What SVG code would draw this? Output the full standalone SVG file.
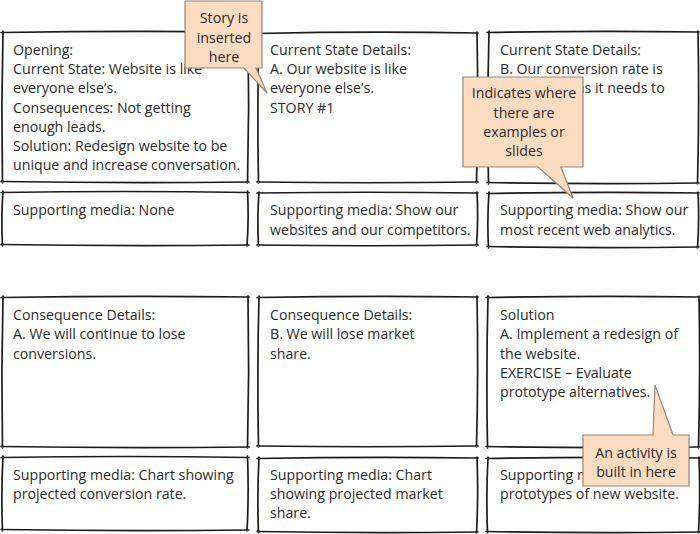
<svg xmlns="http://www.w3.org/2000/svg" width="700" height="534" viewBox="0 0 700 534">
<style>
.t{font-family:"Open Sans","Liberation Sans",sans-serif;font-size:14.2px;fill:#2a2a2a}
.c{font-family:"Open Sans","Liberation Sans",sans-serif;font-size:14.2px;fill:#2a2a2a;text-anchor:middle}
.b{fill:none;stroke:#1c1c1c;stroke-width:1.7;stroke-linecap:round}
.co{fill:#fddcc1;stroke:#9a8576;stroke-width:1.2;stroke-linejoin:miter}
</style>
<rect width="700" height="534" fill="#ffffff"/>

<g id="opening">
<path class="b" d="M1,32.5 Q125,30.5 249,32 M248,31 Q249.5,107 247.5,183 M249,182 Q125,183.5 1,181.5 M2.5,183 Q1,107 3,31"/>
<text class="t" x="13" y="55">Opening:</text>
<text class="t" x="13" y="74">Current State: Website is like</text>
<text class="t" x="13" y="93">everyone else’s.</text>
<text class="t" x="13" y="113">Consequences: Not getting</text>
<text class="t" x="13" y="132">enough leads.</text>
<text class="t" x="13" y="151">Solution: Redesign website to be</text>
<text class="t" x="13" y="170">unique and increase conversation.</text>
</g>
<g id="opening-media">
<path class="b" d="M1,192.5 Q125,190.5 249,192.5 M247.5,191 Q249,218 247,246 M249,245 Q125,246.5 1,244.5 M2.5,246 Q1,218 3,191"/>
<text class="t" x="13" y="215">Supporting media: None</text>
</g>

<g id="current-a">
<path class="b" d="M257,33.5 Q367,31 478,33 M477,32 Q478.5,107 476.5,183 M478,182 Q367,183.5 257,182 M258.5,183 Q257,107 259,32"/>
<text class="t" x="270" y="55">Current State Details:</text>
<text class="t" x="270" y="74">A. Our website is like</text>
<text class="t" x="270" y="93">everyone else’s.</text>
<text class="t" x="270" y="113">STORY #1</text>
</g>
<g id="current-a-media">
<path class="b" d="M257,193 Q367,191.5 478,193 M477,192 Q478.5,218 476.5,246 M478,245 Q367,246.5 257,245 M258.5,246 Q257,218 259,192"/>
<text class="t" x="270" y="215">Supporting media: Show our</text>
<text class="t" x="270" y="235">websites and our competitors.</text>
</g>

<g id="current-b">
<path class="b" d="M487,32.5 Q593,30.5 699,32 M698,31 Q699.5,107 697.5,184 M699,183 Q593,184.5 487,182.5 M488.5,184 Q487,107 489,31"/>
<text class="t" x="500" y="55">Current State Details:</text>
<text class="t" x="500" y="74">B. Our conversion rate is</text>
<text class="t" x="500" y="93">not as high as it needs to</text>
</g>
<g id="current-b-media">
<path class="b" d="M487,193.5 Q593,191.5 699,193 M698,192 Q699.5,220 697.5,248 M699,247 Q593,248.5 487,246.5 M488.5,248 Q487,220 489,192"/>
<text class="t" x="500" y="215">Supporting media: Show our</text>
<text class="t" x="500" y="235">most recent web analytics.</text>
</g>

<g id="consequence-a">
<path class="b" d="M1,297.5 Q125,295.5 249,297 M248,296 Q249.5,372 247.5,448 M249,447 Q125,448.5 1,446.5 M2.5,448 Q1,372 3,296"/>
<text class="t" x="13" y="320">Consequence Details:</text>
<text class="t" x="13" y="339">A. We will continue to lose</text>
<text class="t" x="13" y="359">conversions.</text>
</g>
<g id="consequence-a-media">
<path class="b" d="M1,457.5 Q125,455.5 249,457.5 M247.5,456 Q249,494 247,531 M249,530 Q125,531.5 1,529.5 M2.5,531 Q1,494 3,456"/>
<text class="t" x="13" y="480">Supporting media: Chart showing</text>
<text class="t" x="13" y="499">projected conversion rate.</text>
</g>

<g id="consequence-b">
<path class="b" d="M257,297.5 Q367,295.5 478,297 M477,296 Q478.5,372 476.5,447 M478,446 Q367,447.5 257,446 M258.5,447 Q257,372 259,296"/>
<text class="t" x="270" y="320">Consequence Details:</text>
<text class="t" x="270" y="339">B. We will lose market</text>
<text class="t" x="270" y="359">share.</text>
</g>
<g id="consequence-b-media">
<path class="b" d="M257,458.5 Q367,456.5 478,458 M477,457 Q478.5,495 476.5,533 M478,532 Q367,533.5 257,531.5 M258.5,533 Q257,495 259,457"/>
<text class="t" x="270" y="480">Supporting media: Chart</text>
<text class="t" x="270" y="499">showing projected market</text>
<text class="t" x="270" y="518">share.</text>
</g>

<g id="solution">
<path class="b" d="M486,297.5 Q593,295.5 700,297 M699,296 Q700.5,372 698.5,448 M700,447 Q593,448.5 486,446.5 M487.5,448 Q486,372 488,296"/>
<text class="t" x="500" y="320">Solution</text>
<text class="t" x="500" y="339">A. Implement a redesign of</text>
<text class="t" x="500" y="359">the website.</text>
<text class="t" x="500" y="378">EXERCISE – Evaluate</text>
<text class="t" x="500" y="397">prototype alternatives.</text>
</g>
<g id="solution-media">
<path class="b" d="M486,458.5 Q593,456.5 700,458 M699,457 Q700.5,495 698.5,533 M700,532 Q593,533.5 486,531.5 M487.5,533 Q486,495 488,457"/>
<text class="t" x="500" y="480">Supporting media: Show</text>
<text class="t" x="500" y="499">prototypes of new website.</text>
</g>

<g id="callout-story">
<path class="co" d="M185,1 H262 V68 H256 L267,93 L244,68 H185 Z"/>
<text class="c" x="224" y="23">Story is</text>
<text class="c" x="224" y="43">inserted</text>
<text class="c" x="224" y="62">here</text>
</g>
<g id="callout-examples">
<path class="co" d="M463,77 H583 V167 H561 L573,198 L538,167 H463 Z"/>
<text class="c" x="524" y="98">Indicates where</text>
<text class="c" x="524" y="118">there are</text>
<text class="c" x="524" y="137">examples or</text>
<text class="c" x="524" y="156">slides</text>
</g>
<g id="callout-activity">
<path class="co" d="M583,435 H653 L655,385 L673,435 H689 V486 H583 Z"/>
<text class="c" x="636" y="458">An activity is</text>
<text class="c" x="636" y="477">built in here</text>
</g>
</svg>
